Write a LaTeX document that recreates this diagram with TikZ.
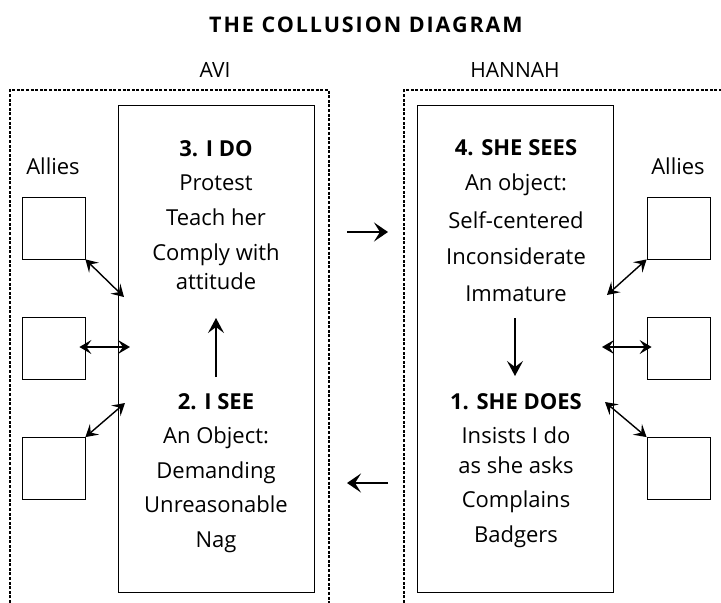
\documentclass[tikz,border=0pt]{standalone}
\usepackage{fontspec}
\setmainfont{Open Sans}
\usetikzlibrary{arrows.meta}
\begin{document}
\begin{tikzpicture}[x=1pt,y=-1pt,
  frame/.style={draw, line width=1.1pt, dash pattern=on 3pt off 1.6pt},
  mainbox/.style={draw, line width=0.9pt, inner sep=0},
  allybox/.style={draw, line width=0.8pt, minimum width=63pt, minimum height=62pt, inner sep=0},
  txt/.style={font=\fontsize{22}{26}\selectfont, anchor=base, inner sep=0},
  head/.style={txt, font=\bfseries\fontsize{22}{26}\selectfont},
  link/.style={{Stealth[length=12pt,width=14pt,inset=5pt]}-{Stealth[length=12pt,width=14pt,inset=5pt]}, line width=1.4pt},
  flow/.style={-{Stealth[length=14pt,width=19pt,inset=6pt]}, line width=2pt},
  vflow/.style={-{Stealth[length=15pt,width=16pt,inset=6pt]}, line width=1.4pt}]
\useasboundingbox (0,0) rectangle (721,603);

% title and side headings
\node[txt, font=\bfseries\fontsize{21.5}{24}\selectfont\addfontfeature{LetterSpace=9}] (title) at (366,32) {THE COLLUSION DIAGRAM};
\node[txt, font=\fontsize{21}{24}\selectfont] (avi) at (215,77) {AVI};
\node[txt, font=\fontsize{21}{24}\selectfont] (hannah) at (515,77) {HANNAH};

% dashed frames, open at the bottom
\draw[frame] (10,603) -- (10,90) -- (329,90) -- (329,603);
\draw[frame] (404,603) -- (404,90) -- (721,90);

% main boxes
\node[mainbox, minimum width=196pt, minimum height=487pt] (L) at (216,348.5) {};
\node[mainbox, minimum width=196pt, minimum height=487pt] (R) at (515,348.5) {};

% ally boxes
\node[txt] (allyL) at (53,174) {Allies};
\node[txt] (allyR) at (678,174) {Allies};
\node[allybox] (la1) at (53.5,228) {};
\node[allybox] (la2) at (53.5,348) {};
\node[allybox] (la3) at (53.5,468.5) {};
\node[allybox] (ra1) at (678.5,228) {};
\node[allybox] (ra2) at (678.5,348) {};
\node[allybox] (ra3) at (678.5,468.5) {};

% Avi: what I do
\node[head] (ido) at (216,156) {3. I DO};
\node[txt] (ido1) at (216,190) {Protest};
\node[txt] (ido2) at (216,225) {Teach her};
\node[txt] (ido3) at (216,260) {Comply with};
\node[txt] (ido4) at (216,289) {attitude};
% Avi: what I see
\node[head] (isee) at (216,409) {2. I SEE};
\node[txt] (isee1) at (216,443) {An Object:};
\node[txt] (isee2) at (216,478) {Demanding};
\node[txt] (isee3) at (216,512) {Unreasonable};
\node[txt] (isee4) at (216,547) {Nag};
% Hannah: what she sees
\node[head] (ssees) at (516,155) {4. SHE SEES};
\node[txt] (ssees1) at (516,190) {An object:};
\node[txt] (ssees2) at (516,228) {Self-centered};
\node[txt] (ssees3) at (516,264) {Inconsiderate};
\node[txt] (ssees4) at (516,301) {Immature};
% Hannah: what she does
\node[head] (sdoes) at (516,409) {1. SHE DOES};
\node[txt] (sdoes1) at (516,443) {Insists I do};
\node[txt] (sdoes2) at (516,473) {as she asks};
\node[txt] (sdoes3) at (516,507) {Complains};
\node[txt] (sdoes4) at (516,542) {Badgers};

% arrow ends on the main box edges
\coordinate (l1) at (124,297);
\coordinate (l2) at (130,347);
\coordinate (l3) at (125,403);
\coordinate (r1) at (607,295);
\coordinate (r2) at (602,347);
\coordinate (r3) at (605,402);

\draw[link] (la1.south east) -- (l1);
\draw[link] (la2.east) ++(-6,-1) coordinate (la2e) (la2e) -- (l2);
\draw[link] (la3.north east) -- (l3);
\draw[link] (ra1.south west) -- (r1);
\draw[link] (ra2.west) ++(5,-1) coordinate (ra2w) (ra2w) -- (r2);
\draw[link] (ra3.north west) -- (r3);

% cycle arrows
\coordinate (upS) at (216,377);
\coordinate (upE) at (216,318);
\draw[vflow] (upS) -- (upE);
\coordinate (dnS) at (515,318);
\coordinate (dnE) at (515,376);
\draw[vflow] (dnS) -- (dnE);
\coordinate (rtS) at (347,232);
\coordinate (rtE) at (388,232);
\draw[flow] (rtS) -- (rtE);
\coordinate (lfS) at (388,483);
\coordinate (lfE) at (347,483);
\draw[flow] (lfS) -- (lfE);
\end{tikzpicture}
\end{document}
